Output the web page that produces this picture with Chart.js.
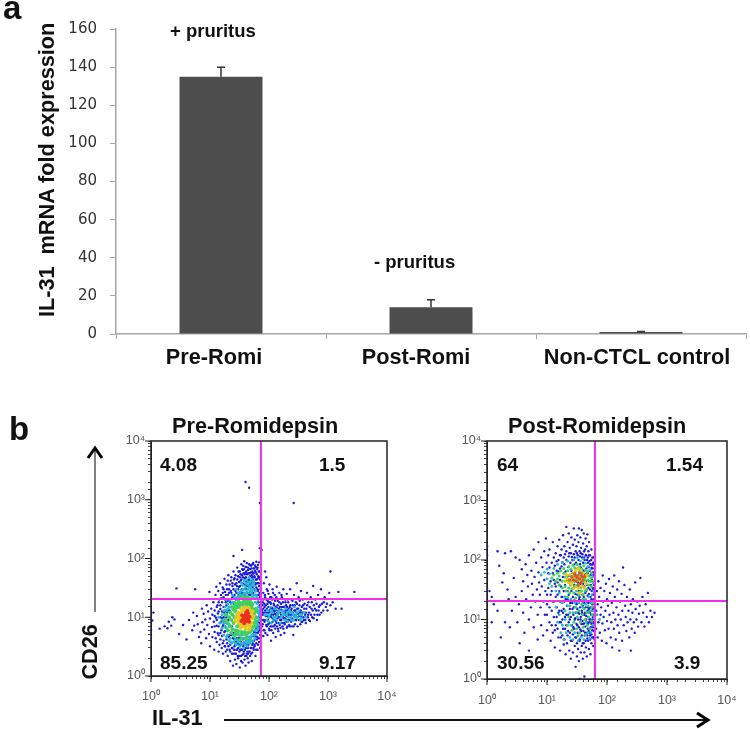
<!DOCTYPE html>
<html>
<head>
<meta charset="utf-8">
<script src="https://cdn.jsdelivr.net/npm/chart.js@4/dist/chart.umd.min.js"></script>
<style>
html, body { margin: 0; padding: 0; background: #fff; }
#page { position: relative; width: 750px; height: 729px; overflow: hidden; }
canvas { position: absolute; }
svg { position: absolute; left: 0; top: 0; }
.t { position: absolute; font: bold 21.7px "Liberation Sans", Arial, sans-serif; color: #111; white-space: pre; line-height: 1; }
.q { font-size: 19px; }
.s { font-size: 18.5px; }
</style>
</head>
<body>
<div id="page">
  <canvas id="bars" width="750" height="385" style="left:0;top:0"></canvas>
  <canvas id="pre" width="310" height="280" style="left:100px;top:430px"></canvas>
  <canvas id="post" width="310" height="280" style="left:440px;top:430px"></canvas>
  <svg width="750" height="729">
    <line x1="95" y1="612" x2="95" y2="450" stroke="#808080" stroke-width="2"/>
    <path d="M88 458 L95 448 L102 458" fill="none" stroke="#000" stroke-width="3"/>
    <line x1="224" y1="720" x2="706" y2="720" stroke="#111" stroke-width="2"/>
    <path d="M697 713 L708 720 L697 727" fill="none" stroke="#000" stroke-width="3"/>
  </svg>
  <div class="t" style="left:3px;top:-9px;font-size:33px">a</div>
  <div class="t" style="left:9px;top:412px;font-size:33px">b</div>
  <div class="t s" style="left:170px;top:22px">+ pruritus</div>
  <div class="t s" style="left:374px;top:253px">- pruritus</div>
  <div class="t" style="left:-103px;top:159px;width:300px;text-align:center;transform:rotate(-90deg)">IL-31  mRNA fold expression</div>
  <div class="t" style="left:172px;top:415px">Pre-Romidepsin</div>
  <div class="t" style="left:508px;top:415px">Post-Romidepsin</div>
  <div class="t q" style="left:160px;top:455px">4.08</div>
  <div class="t q" style="left:319px;top:455px">1.5</div>
  <div class="t q" style="left:160px;top:653px">85.25</div>
  <div class="t q" style="left:319px;top:653px">9.17</div>
  <div class="t q" style="left:497px;top:455px">64</div>
  <div class="t q" style="left:666px;top:455px">1.54</div>
  <div class="t q" style="left:497px;top:653px">30.56</div>
  <div class="t q" style="left:674px;top:653px">3.9</div>
  <div class="t" style="left:152px;top:707px">IL-31</div>
  <div class="t" style="left:60px;top:641px;width:60px;text-align:center;transform:rotate(-90deg)">CD26</div>
</div>
<script>
const categories = ['Pre-Romi', 'Post-Romi', 'Non-CTCL control'];
const categoryCenters = [214, 416, 637];
const foldValues = [135, 14, 1];
const foldErrors = [5, 4, 0.3];
const foldTicks = [0, 20, 40, 60, 80, 100, 120, 140, 160];

const preGate = [73, 20.5];
const postGate = [63, 20.5];

const preRed = [[38,10],[41,9.5],[43,10.5],[40,11],[36,9.2],[45,9],[42,8.6],[37,10.4],[44,11.6],[39,8.8],[47,10.2],[41,12],[35,10.8],[46,8.4],[38,7.9],[43,12.8],[34,8.6],[40,10]];
const preYellow = [[30,9],[32,11],[33,7.5],[35,12.5],[37,13.5],[30,12],[42,14],[46,13],[50,11.5],[52,9.5],[50,8],[48,7],[42,7.2],[36,7],[31,8],[28,10],[29,11.2],[34,14],[39,14.8],[45,14.6],[53,12.6],[54,10.4],[33,6.6],[40,6.4],[46,6.2],[27,8.6],[35,9.8],[48,12.2],[44,7.8],[32,9.8]];
const preGreen = [[20,8],[21,10],[22,7],[22,12],[23,9],[24,6.2],[24,11],[25,13.5],[25,8],[26,15],[27,6],[27,12.5],[28,5.4],[28,14.5],[29,7],[29,16],[30,5.8],[31,15],[31,18],[32,5],[33,16.5],[34,5.6],[35,17.5],[36,5.2],[37,16],[38,19],[39,5.6],[40,17],[41,5],[42,18.5],[43,16],[44,5.4],[45,17],[46,20],[47,5.6],[48,15.5],[49,18],[50,6],[51,14.5],[52,16.5],[53,6.8],[55,13.5],[56,8],[56,11.5],[57,9.4],[58,12.5],[58,7],[60,10],[60,14],[61,8.6],[24,14.8],[26,10],[27,17],[30,20],[34,21],[38,22],[44,22],[50,21],[23,5.4],[26,4.8],[42,4.4],[33,4.2],[19,11],[18,9],[20,6]];
const preCyan = [[30,26],[34,28],[38,30],[42,27],[46,32],[50,26],[54,30],[58,24],[36,35],[40,38],[44,36],[48,40],[52,36],[56,34],[42,44],[46,48],[50,44],[38,42],[34,38],[60,28],[62,22],[28,30],[32,24],[40,25],[48,28],[55,41],[44,30],[36,24],[52,24],[65,20],
  [15,8],[16,11],[16,6.5],[17,13],[17,5],[18,15],[18,7],[19,4.6],[20,17],[21,4],[22,20],[23,3.6],[24,18],[25,3.8],[26,22],[27,4.2],[28,3.4],[30,3.8],[32,3.2],[35,3.6],[37,3],[40,3.8],[43,3.2],[45,4],[48,3.6],[50,4.6],[53,4],[56,5],[58,4.4],[62,6],[64,7.5],[64,10],[65,12],[66,15],[63,17],[68,9],[68,13],[70,11],[21,15],[14,10],[19,20],[24,24],
  [16,9],[17,8],[18,11],[19,13],[19,6.5],[20,5],[20,14],[21,7.5],[22,4.4],[22,15],[23,3.8],[23,17],[25,5],[26,18],[27,3.6],[28,20],[29,4.2],[30,22],[31,4],[32,27],[33,3.6],[34,24],[35,4.4],[36,30],[37,4.4],[38,26],[39,3.4],[40,33],[41,4],[42,23],[43,3.6],[44,40],[45,4.6],[46,26],[47,4.4],[48,34],[49,4],[50,30],[51,5],[52,28],[54,5.2],[54,22],[55,38],[57,6],[59,5.2],[59,18],[60,24],[62,8],[62,13],[63,10],[65,6.6],[66,12],
  [85,11],[92,9],[95,13],[100,10],[105,15],[110,8],[115,12],[120,10],[130,14],[135,9],[140,11],[150,13],[155,8],[165,10.5],[175,12],[185,9],[190,14],[200,11],[210,8.5],[220,13],[235,10],[245,12],[260,9],[270,15],[285,11],[300,10],[320,13],[340,9],[360,11],[390,12],[420,10],
  [90,11],[98,8.5],[102,11],[108,13],[118,9],[125,14],[132,10],[145,12],[160,10],[170,13],[180,11],[195,9],[205,12],[215,10],[228,12],[240,9],[255,11],[275,10],[295,12],[330,11],[350,9.6]];
const preBlue = [[1,11],[1,7.4],[1,6.2],[1,4.6],[1.1,12],[1.05,8.8],[1.4,6.4],[1.7,7],[1.9,6.5],[2,8.4],[2.3,10],[2.5,9.2],[2.2,7.2],[2.7,31],[3,5.2],[3.5,7.4],[4,4.2],[4.4,9],[5,6],[5.4,7.2],[5.2,12],[5.6,30],[6,10.5],[6.5,4.6],[6.2,7.6],[6.9,5.6],[7.4,8.2],[7.1,3.6],[7.3,14],[7.8,11.5],[8,6.2],[8.3,9.2],[8.6,4.4],[8.8,16],[9,7.4],[9.3,12.5],[9.6,5.2],[9.8,27],[10,9.5],[10,3.2],
  [10.5,14],[10.8,6.8],[11,11],[11,4.6],[11.4,18],[11.6,8.4],[11.8,2.8],[12,13],[12,5.6],[12.4,24],[12.6,9.8],[12.8,33],[13,7.2],[13,3.8],[13.4,16],[13.6,11.6],[13.8,28],[14,5],[14,2.6],[14.4,20],[14.6,8],[14.8,38],[15,13.8],[15,4.2],[15.4,24],[15.6,6],[15.8,3],[16,18],[16,9.6],[16.4,32],[16.6,2.4],[16.8,7.4],[17,22],[17,4],[17.4,12],[17.6,45],[17.8,3.2],[18,27],[18,5.8],[18.5,18],[18.5,2.6],[19,36],[19,10],[19.5,6],[19.5,3.6],[20,24],[20,13],[20,2.2],[20.5,52],[21,30],[21,4.6],
  [21.5,2.8],[22,1.8],[22,3.4],[22.5,42],[23,26],[23,5],[23.5,2.4],[24,34],[24,3],[24.5,1.5],[25,60],[25,22],[25.5,2.8],[26,46],[26,4.2],[26.5,1.9],[27,28],[27,3.4],[27.5,2.4],[28,38],[28,1.6],[28.5,4.4],[29,70],[29,2.8],[29.5,3.6],[30,50],[30,2],[30.5,24],[31,33],[31,4.4],[31.5,2.6],[32,60],[32,1.4],[33,3.4],[33,42],[33.5,2.2],[34,80],[34,26],[35,2.8],[35,52],[35.5,1.7],[36,4.2],[36,64],[37,2.4],[37,36],[38,3.4],[38,90],[38.5,1.9],[39,46],[39,2.8],[40,58],[40,1.5],[41,3.6],[41,72],[42,2.4],[42,34],[43,55],[43,4.6],[43.5,2],[44,64],[44,3],[45,42],[45,1.7],[46,80],[46,2.6],[47,56],[47,3.8],[48,66],[48,2.2],[49,34],[49,4.6],[50,76],[50,3],[51,52],[51,1.8],[52,60],[52,2.5],[53,44],[53,3.6],[54,84],[54,4.8],[55,56],[55,2.8],[56,68],[56,5.6],[57,3.4],[57,48],[58,76],[58,4.4],[59,36],[59,2.2],[60,58],[60,5.4],[61,88],[61,3.6],[62,44],[62,6.6],[63,66],[63,4.6],[64,30],[64,2.8],[65,78],[65,8.4],[66,50],[66,5.6],[67,38],[67,12],[68,86],[68,3.8],[69,26],[69,6.6],[70,60],[70,16],[71,44],[71,9.2],[72,30],[72,5],[72,14],
  [40,2000],[46,1600],[70,880],[262,880],[35,140],[70,150],[75,140],[25,110],
  [12,7],[12,10.5],[12.5,4.4],[13,15],[13,9],[13.5,5.4],[14,12.5],[14,7],[14,18],[14.5,3.4],[15,10],[15,5.4],[15,16],[15.5,8.4],[15.5,21],[16,4.8],[16,12.5],[16.5,7],[16.5,26],[16.5,3.6],[17,10],[17,15],[17,30],[17.5,5.6],[17.5,8.6],[18,13],[18,3.2],[18,20],[18.5,6.6],[18.5,24],[19,4.2],[19,8],[19,16],[19.5,12],[19.5,30],[19.5,2.8],[20,5],[20,42],[20,19],[20.5,9],[20.5,3.2],[21,26],[21,7],[21.5,13],[21.5,36],[22,5],[22,2.6],[22,18],[22.5,28],[22.5,3.8],[23,48],[23,15],[23.5,7],[23.5,3],[24,22],[24,38],[24.5,4.4],[24.5,2.4],[25,30],[25,5.4],[25.5,17],[25.5,44],[26,3.2],[26,24],[26.5,2.4],[26.5,36],[27,5],[27,52],[27.5,3.8],[27.5,20],[28,26],[28,2.8],[28.5,34],[28.5,6],[29,44],[29,4.2],[29.5,22],[29.5,2.2],[30,30],[30,3],[30.5,60],[30.5,5],[31,40],[31,2.2],[31.5,26],[31.5,3.4],[32,48],[32,4.4],[32.5,34],[32.5,2.8],[33,22],[33,54],[33.5,3.8],[33.5,1.8],[34,44],[34,2.8],[34.5,30],[34.5,5],[35,66],[35,3.6],[35.5,38],[35.5,2.3],[36,26],[36,48],[36.5,3.2],[36.5,75],[37,56],[37,4.4],[37.5,30],[37.5,2.6],[38,42],[38,66],[38.5,3.8],[39,24],[39,54],[39.5,2.2],[39.5,36],[40,72],[40,4.4],[40.5,48],[40.5,3],[41,30],[41,60],[41.5,2.2],[41.5,40],[42,84],[42,3.4],[42.5,54],[43,26],[43,2.6],[43.5,42],[44,70],[44,4.2],[44.5,34],[44.5,2.4],[45,56],[45,3.4],[45.5,24],[46,44],[46,4.6],[46.5,66],[47,36],[47,2.6],[47.5,50],[48,24],[48,4.4],[48.5,76],[49,42],[49,3],[49.5,58],[50,30],[50,2.4],[50.5,68],[51,38],[51,4],[51.5,24],[52,48],[52,3.4],[52.5,80],[53,32],[53,5],[54,56],[54,26],[54.5,3],[55,40],[55,68],[56,30],[56,4],[56.5,50],[57,24],[57,3.2],[58,62],[58,38],[58.5,6],[59,28],[59,4.8],[60,44],[60,72],[60.5,2.8],[61,32],[61,6.4],[62,54],[62,24],[62.5,4.2],[63,38],[63,8],[64,70],[64,5.4],[65,28],[65,3.4],[65.5,46],[66,10],[66,18],[66.5,7],[67,60],[67,24],[67.5,4.4],[68,34],[68,15],[68.5,6],[69,11],[69,48],[70,8],[70,22],[70.5,3],[71,13],[71,5],[72,18],[72,7.4],[72,10],
  [76,7],[78,12],[78,18],[80,4.8],[80,26],[82,9],[82,38],[84,6],[84,15],[86,22],[86,60],[88,10.5],[90,7.4],[90,48],[92,14],[92,30],[94,5],[95,19],[96,9],[98,25],[100,6.4],[100,12],[102,36],[104,8],[105,18],[108,4],[108,11],[110,22],[112,7],[112,14.5],[115,30],[116,9.5],[118,5.4],[120,17],[122,12.5],[125,7.4],[125,24],[128,10],[130,4.6],[130,15],[134,8],[135,33],[138,12],[140,19],[142,6.4],[145,10],[148,14],[150,26],[152,7.4],[155,12],[158,5],[160,17],[162,9],[165,22],[168,13],[170,7],[172,10.5],[175,30],[178,15],[180,8],[182,5.4],[185,12],[188,20],[190,9.5],[195,16],[200,6.6],[200,25],[205,13],[208,9],[212,18],[215,11],[220,7.4],[225,15],[228,30],[232,9],[236,13],[240,20],[245,7],[248,11],[252,16],[258,5],[260,9],[265,24],[270,13],[275,7.6],[280,11],[285,18],[290,9],[295,38],[300,14],[305,7],[310,11.5],[318,22],[322,9],[328,16],[335,12],[340,7.6],[348,28],[352,10],[360,15],[368,8.4],[375,20],[382,12],[390,9],[400,17],[410,11],[420,8],[430,14],[440,26],[455,10],[465,18],[480,12],[495,8.6],[510,22],[525,14],[540,10],[560,34],[575,16],[590,11],[610,20],[630,13],[650,9],[680,24],[700,15],[720,11],[760,30],[790,17],[830,13],[880,22],[920,15],[980,13],[1050,26],[1100,16],[1200,18],[1350,14],[1500,27],[1700,14],[2800,27],[1100,60],
  [76,9],[76,13],[77,16],[78,7.6],[79,11],[80,14],[80,20],[81,6],[82,12],[83,17],[84,8.4],[85,24],[86,13],[87,5.4],[88,16],[89,9],[90,12],[90,20],[92,7],[93,10.5],[94,17],[95,28],[96,12],[97,7.6],[98,15],[99,10],[100,18],[102,6],[102,13],[104,10.5],[105,22],[106,7],[107,14],[108,17],[110,10],[110,6],[112,12],[113,20],[115,8.4],[116,14],[117,26],[118,11],[120,7],[120,13],[122,16],[124,9],[125,11.5],[126,19],[128,6.4],[129,13],[131,8.6],[132,11],[133,22],[135,14.5],[136,7],[138,9.4],[140,16],[142,11.5],[144,5.8],[145,13],[147,8],[150,10],[150,18],[153,15],[155,9],[157,6.6],[160,11],[161,13.5],[163,24],[165,8],[167,15],[170,10],[172,18],[175,6.4],[176,12.5],[180,9.6],[182,15],[185,7.6],[187,11],[190,18],[193,13],[196,8.4],[198,10.5],[202,15],[205,7],[207,20],[210,11.5],[214,14],[218,9],[222,12],[226,7],[230,16],[234,11],[238,8.4],[242,14],[246,9.6],[250,19],[255,12],[262,7],[268,10.5],[272,16],[278,13],[284,9],[292,12],[298,17],[304,10],[312,14],[325,10.5],[332,19],[345,13],[355,8.4],[365,12],[378,16],[385,10],[395,14],[412,9],[425,12],[445,16],[460,11],[475,9],[490,15],[515,11],[530,18],[550,13],[570,9.6],[600,14],[640,17],[660,11],[690,13],[730,16],[770,12],[850,18],[960,17]];

const postStreak = [[24,44],[27,54],[30,48],[33,44],[36,52],[26,60],[31,38],[35,56],[40,42],[29,42],[38,62],[42,48],[22,52],[44,46],[34,64],[28,36],[37,34]];
const postRed = [[32,50],[35,48],[30,54],[34,56],[28,46],[37,42],[31,44],[38,54],[26,52],[33,38],[36,60],[29,58],[40,46],[24,46],[42,52]];
const postYellow = [[22,48],[24,56],[26,42],[28,60],[25,38],[30,36],[34,34],[38,36],[42,44],[44,52],[40,60],[36,68],[30,66],[23,42],[42,34],[45,40],[28,34],[21,56],[33,72],[20,44],[27,50],[39,48],[46,56],[35,28]];
const postGreen = [[12,50],[13,56],[14,44],[15,60],[15,48],[16,38],[16,54],[17,66],[18,44],[18,34],[19,60],[19,72],[20,36],[20,52],[21,30],[22,66],[23,34],[23,78],[24,28],[25,70],[26,33],[27,82],[28,28],[29,74],[31,30],[32,84],[34,26],[35,76],[37,30],[38,70],[40,26],[41,80],[43,30],[44,68],[46,32],[47,64],[48,46],[50,38],[50,54],[52,44],[54,50],[55,36],[55,60],[57,44],[22,24],[30,23],[40,22],
  [20,14],[22,8],[23,11],[24,17],[26,6.6],[27,13],[28,9],[30,16],[31,7],[32,11],[34,14],[35,6],[36,9],[38,18],[39,12],[40,7.4],[42,15],[43,10],[44,5.6],[46,13],[47,8],[48,17],[50,11],[52,7],[53,14],[55,9.4],[56,16],[57,12],[58,19],[33,5.4]];
const postCyan = [[8,56],[9,62],[10,48],[10,70],[11,40],[11,58],[12,36],[13,72],[14,30],[15,84],[16,28],[18,90],[20,24],[22,96],[25,22],[28,100],[32,110],[36,96],[40,104],[44,88],[48,78],[52,68],[56,26],[58,52],[60,42],[60,30],[50,24],[44,22],
  [14,16],[15,9],[16,12],[17,6],[18,19],[18,8],[19,4.6],[20,10],[21,6],[22,17],[24,5],[24,13],[25,8],[27,4.6],[29,19],[29,6],[31,13],[33,4.4],[34,19],[37,5],[39,16],[41,4.6],[44,18],[45,9],[48,6],[49,13],[51,4.8],[54,19],[54,6],[58,8],[59,14],[61,11],[68,12],[75,10]];
const postBlue = [[1,170],[1,120],[1,60],[1,45],[1,34],[1,20],[1,14],[1,10],[1,7.4],[1,4.4],[1,3],[1.1,30],[1.2,24],[1.3,18],[1.2,9],[1.5,140],[1.6,80],[1.5,14],[1.7,5],[1.8,42],[1.9,60],[2,130],[2,9],[2.2,32],[2.3,22],[2.4,7.4],[2.5,140],[2.6,14],[2.8,50],[3,24],[3,110],[3.2,9],[3.4,18],[3.5,100],[3.5,4],[3.8,70],[3.8,30],[4,44],[4,13],[4.2,6],[4.4,85],[4.5,22],[4.7,56],[4.8,36],[5,10],[5,120],[5,3],[5.4,16],[5.5,66],[5.6,40],[5.8,26],[6,150],[6,7.4],[6.2,52],[6.4,20],[6.6,90],[6.8,32],[7,12],[7,4.6],[7.2,200],[7.2,62],[7.4,42],[7.6,26],[7.8,16],[8,110],[8,8],[8.2,36],[8.4,76],[8.6,5.4],[8.8,20],[9,140],[9,46],[9.2,12],[9.4,30],[9.6,230],[9.8,90],[10,6.6],[10,18],
  [10.5,120],[10.5,34],[11,150],[11,9],[11.5,4.4],[11.5,26],[12,90],[12,14],[12.5,200],[12.5,6],[13,110],[13,20],[13.5,40],[13.5,3.4],[14,130],[14,8],[14.5,66],[14.5,11],[15,170],[15,26],[15.5,5],[15.5,100],[16,14],[16,220],[16.5,72],[16.5,3],[17,120],[17,9],[17.5,24],[17.5,150],[18,5.4],[18,92],[18.5,13],[18.5,260],[19,3.8],[19,110],[19.5,20],[19.5,170],[20,7],[20,125],[20.5,2.6],[21,360],[21,140],[21,12],[21.5,4],[22,200],[22,22],[22.5,6.4],[23,115],[23,280],[23.5,3],[24,160],[24,10],[24.5,19],[25,130],[25,2.2],[25.5,240],[26,4.4],[26,112],[26.5,15],[27,180],[27,2.8],[27.5,7.4],[28,340],[28,125],[28.5,21],[29,3.6],[29,220],[29.5,10.5],[30,140],[30,1.6],[30.5,5],[31,170],[31,18],[31.5,2.4],[32,260],[32,8],[32.5,120],[33,3.2],[33,13],[33.5,200],[34,2],[34,340],[34.5,22],[35,140],[35,4.4],[35.5,115],[36,10],[36,240],[36.5,2.8],[37,160],[37,6.4],[38,320],[38,3.6],[38.5,13],[39,125],[39,20],[39.5,2.2],[40,190],[40,8.4],[41,280],[41,4],[41.5,110],[42,12],[42,2.8],[43,150],[43,6],[44,230],[44,21],[44.5,3.4],[45,120],[45,10],[46,170],[46,2.4],[47,4.8],[47,270],[47.5,14],[48,110],[48,7],[49,140],[49,19],[50,3.2],[50,200],[51,96],[51,10],[52,5.4],[52,120],[53,16],[53,2.6],[54,84],[54,9],[55,150],[55,4],[56,72],[56,20],[57,110],[57,6.6],[58,34],[58,11],[59,90],[59,3.6],[60,62],[60,16],[60,5],[61,26],[61,8.6],[62,44],[62,12],[62,1],[35,1],[42,1.1],
  [10,12],[10,26],[10.5,60],[11,16],[11,75],[11.5,44],[12,8],[12,30],[12.5,60],[12.5,20],[13,11],[13,46],[13.5,80],[13.5,6.6],[14,24],[14,36],[14.5,95],[14.5,16],[15,7],[15,42],[15.5,13],[15.5,64],[16,30],[16,9],[16.5,20],[16.5,46],[16.5,120],[17,5],[17,36],[17.5,14],[17.5,78],[18,24],[18,10],[18.5,52],[18.5,7],[19,30],[19,15],[19.5,85],[19.5,4.6],[20,11],[20,38],[20.5,22],[20.5,64],[21,8],[21,100],[21.5,17],[21.5,46],[22,5.4],[22,30],[22.5,12],[22.5,76],[23,26],[23,9],[23.5,54],[23.5,130],[24,15],[24,6],[24.5,38],[24.5,90],[25,11],[25,4.4],[25.5,30],[25.5,66],[26,19],[26,8],[26.5,100],[26.5,44],[27,5.6],[27,24],[27.5,12],[27.5,60],[28,16],[28,7],[28.5,84],[28.5,38],[29,10],[29,110],[29.5,27],[29.5,5],[30,13],[30,64],[30.5,20],[30.5,90],[31,8.4],[31,36],[31.5,4],[31.5,130],[32,15],[32,26],[32.5,6],[32.5,72],[33,10],[33,42],[33.5,19],[33.5,100],[34,7.4],[34,30],[34.5,12.5],[34.5,62],[35,4.6],[35,24],[35.5,16],[35.5,85],[36,6.8],[36,40],[36.5,11],[36.5,130],[37,21],[37,74],[37.5,8.4],[37.5,30],[38,14],[38,5.4],[38.5,52],[38.5,110],[39,9.4],[39,26],[39.5,17],[39.5,4],[40,40],[40,90],[40.5,12],[40.5,6.4],[41,24],[41,66],[41.5,8.6],[41.5,140],[42,19],[42,36],[42.5,5.4],[42.5,100],[43,13],[43,58],[43.5,28],[43.5,7.6],[44,16],[44,4.4],[44.5,44],[44.5,120],[45,11.5],[45,30],[45.5,72],[45.5,6],[46,20],[46,9],[46.5,100],[46.5,38],[47,13],[47,5.4],[47.5,25],[47.5,60],[48,16],[48,8.4],[48.5,90],[48.5,4.4],[49,34],[49,11],[49.5,6.4],[49.5,76],[50,15],[50,27],[50.5,120],[50.5,9],[51,20],[51,44],[51.5,6],[51.5,66],[52,13],[52,32],[52.5,85],[52.5,4.6],[53,10],[53,24],[53.5,56],[53.5,7.4],[54,16],[54,38],[54.5,100],[54.5,12],[55,5.6],[55,22],[55.5,74],[55.5,8.4],[56,30],[56,14],[56.5,46],[56.5,5],[57,18],[57,62],[57.5,10],[57.5,26],[58,84],[58,7.4],[58.5,15],[58.5,42],[59,12],[59,5],[59.5,32],[59.5,56],[60,9],[60,22],[60.5,110],[60.5,6.4],[61,14],[61,38],[61.5,72],[61.5,18],[62,8],[62,28],[62,4.6],
  [66,7],[66,14],[68,30],[70,5],[70,18],[72,9],[72,44],[74,24],[76,6],[78,12],[78,34],[80,16],[82,4.4],[84,8.6],[85,55],[86,20],[88,11],[90,30],[92,6.6],[94,14],[96,40],[98,4],[100,9.4],[100,22],[104,17],[106,7],[108,48],[110,12],[112,28],[115,5],[118,9],[120,19],[122,3.4],[125,36],[128,13],[130,7],[132,55],[135,24],[138,10],[140,4.6],[144,16],[148,32],[150,8],[155,12],[158,44],[160,6],[165,20],[170,10],[175,27],[178,4.4],[180,14],[185,75],[190,8],[195,38],[200,17],[205,11],[210,6.4],[215,24],[220,9],[228,14],[235,5],[240,32],[245,10],[250,18],[258,7],[265,13],[270,22],[280,9],[290,6],[295,42],[300,15],[310,10],[320,20],[330,7.6],[340,12.5],[350,17],[360,50],[375,9],[390,24],[400,13],[420,7.6],[440,18],[460,11],[480,28],[500,9],[530,14],[560,11],[620,13],[250,3],[160,3]];

const superscripts = { 1: '10⁰', 10: '10¹', 100: '10²', 1000: '10³', 10000: '10⁴' };

categories.forEach((name, i) => {
    const label = document.createElement('div');
    label.className = 't';
    label.textContent = name;
    label.style.left = (categoryCenters[i] - 150) + 'px';
    label.style.width = '300px';
    label.style.textAlign = 'center';
    label.style.top = '346px';
    document.getElementById('page').appendChild(label);
});

// error bars are not in Chart.js, drawn from the y scale
const errorBarPlugin = {
    id: 'errorBars',
    afterDatasetsDraw(chart) {
        const ctx = chart.ctx;
        const meta = chart.getDatasetMeta(0);
        const y = chart.scales.y;
        ctx.save();
        ctx.strokeStyle = '#333';
        ctx.lineWidth = 1.5;
        meta.data.forEach((bar, i) => {
            const top = y.getPixelForValue(foldValues[i] + foldErrors[i]);
            const base = y.getPixelForValue(foldValues[i]);
            ctx.beginPath();
            ctx.moveTo(bar.x, base);
            ctx.lineTo(bar.x, top);
            ctx.moveTo(bar.x - 4, top);
            ctx.lineTo(bar.x + 4, top);
            ctx.stroke();
        });
        ctx.restore();
    }
};

// box round the plot, and the longer tick at each decade
const framePlugin = {
    id: 'frame',
    afterDraw(chart) {
        const a = chart.chartArea;
        const ctx = chart.ctx;
        ctx.save();
        ctx.strokeStyle = '#222';
        ctx.lineWidth = 1.5;
        ctx.strokeRect(a.left, a.top, a.right - a.left, a.bottom - a.top);
        ctx.lineWidth = 1;
        ctx.beginPath();
        Object.keys(superscripts).forEach(v => {
            const px = chart.scales.x.getPixelForValue(+v);
            const py = chart.scales.y.getPixelForValue(+v);
            ctx.moveTo(px, a.bottom);
            ctx.lineTo(px, a.bottom + 6);
            ctx.moveTo(a.left, py);
            ctx.lineTo(a.left - 6, py);
        });
        ctx.stroke();
        ctx.restore();
    }
};

new Chart(document.getElementById('bars'), {
    type: 'bar',
    plugins: [errorBarPlugin],
    data: {
        labels: categories,
        datasets: [{ data: foldValues, backgroundColor: '#4d4d4d', categoryPercentage: 1, barPercentage: 0.395 }]
    },
    options: {
        responsive: false,
        animation: false,
        layout: { padding: { top: 29, right: 4 } },
        plugins: { legend: { display: false }, tooltip: { enabled: false } },
        scales: {
            x: {
                afterFit(scale) { scale.height = 51; },
                border: { color: '#a6a6a6', width: 1.5 },
                grid: { drawOnChartArea: false, tickLength: 5, tickColor: '#a6a6a6' },
                ticks: { display: false }
            },
            y: {
                min: 0,
                max: 160,
                afterFit(scale) { scale.width = 116; },
                afterBuildTicks(scale) { scale.ticks = foldTicks.map(v => ({ value: v })); },
                border: { color: '#a6a6a6', width: 1.5 },
                grid: { drawOnChartArea: false, tickLength: 6, tickColor: '#a6a6a6' },
                ticks: { color: '#333', padding: 13, font: { family: '"DejaVu Sans"', size: 15 } }
            }
        }
    }
});

function logAxis(size, labelPad) {
    return {
        type: 'logarithmic',
        min: 1,
        max: 10000,
        afterFit(scale) {
            if (scale.axis === 'x') scale.height = size; else scale.width = size;
        },
        border: { color: '#222', width: 1 },
        grid: { drawOnChartArea: false, tickLength: 3, tickColor: '#444' },
        ticks: {
            autoSkip: false,
            maxRotation: 0,
            padding: labelPad,
            color: '#555',
            font: { family: '"Liberation Sans"', size: 12.5 },
            callback: value => superscripts[value] || ''
        }
    };
}

function dots(rows, color, radius) {
    return {
        data: rows.map(p => ({ x: p[0], y: p[1] })),
        showLine: false,
        pointRadius: radius,
        pointBorderWidth: 0,
        backgroundColor: color
    };
}

function gateLine(rows) {
    return {
        data: rows.map(p => ({ x: p[0], y: p[1] })),
        showLine: true,
        pointRadius: 0,
        borderColor: '#f030e8',
        borderWidth: 2
    };
}

function flowChart(id, gate, layers, xSize, ySize, xPad) {
    new Chart(document.getElementById(id), {
        type: 'scatter',
        plugins: [framePlugin],
        data: {
            datasets: [
                gateLine([[gate[0], 1], [gate[0], 10000]]),
                gateLine([[1, gate[1]], [10000, gate[1]]])
            ].concat(layers)
        },
        options: {
            responsive: false,
            animation: false,
            layout: { padding: { top: 11, right: 23 } },
            plugins: { legend: { display: false }, tooltip: { enabled: false } },
            scales: { x: logAxis(xSize, xPad), y: logAxis(ySize, 3) }
        }
    });
}

flowChart('pre', preGate, [
    dots(preRed, '#e8301a', 2),
    dots(preYellow, '#e8c820', 2),
    dots(preGreen, '#3ed060', 2),
    dots(preCyan, '#28b8d0', 1.5),
    dots(preBlue, '#1a1ad8', 1.2)
], 34, 51, 10);

flowChart('post', postGate, [
    dots(postStreak, '#3ed060', 1),
    dots(postRed, '#e8501a', 1.8),
    dots(postYellow, '#e0c820', 1.8),
    dots(postGreen, '#3ed060', 1.5),
    dots(postCyan, '#28b8d0', 1.4),
    dots(postBlue, '#1a1ad8', 1.2)
], 31, 47, 11);
</script>
</body>
</html>
